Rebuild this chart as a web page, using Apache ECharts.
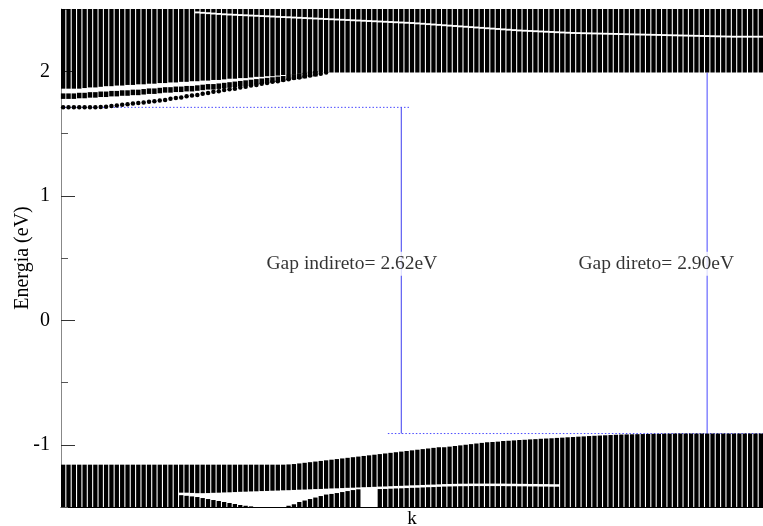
<!DOCTYPE html>
<html>
<head>
<meta charset="utf-8">
<script src="https://cdn.jsdelivr.net/npm/echarts@6/dist/echarts.min.js"></script>
<style>
  html, body { margin: 0; padding: 0; background: #fff; }
  #chart { width: 763px; height: 526px; }
</style>
</head>
<body>
<div id="chart"></div>
<script>
// Band structure: energies (eV) at each k-point along the path (k = 0 .. 130)

// Bottom edge of the dense conduction band manifold
const condBottom = [
  1.86,1.86,1.86,1.86,1.865,1.87,1.87,1.875,1.88,1.88,
  1.885,1.885,1.89,1.89,1.895,1.895,1.90,1.90,1.905,1.905,
  1.91,1.91,1.915,1.915,1.92,1.92,1.925,1.925,1.93,1.93,
  1.935,1.94,1.94,1.945,1.945,1.95,1.955,1.955,1.96,1.96,
  1.965,1.97,1.97,1.975,1.98,1.98,1.985,1.985,1.99,1.99,
  1.99,1.99,1.99,1.99,1.99,1.99,1.99,1.99,1.99,1.99,
  1.99,1.99,1.99,1.99,1.99,1.99,1.99,1.99,1.99,1.99,
  1.99,1.99,1.99,1.99,1.99,1.99,1.99,1.99,1.99,1.99,
  1.99,1.99,1.99,1.99,1.99,1.99,1.99,1.99,1.99,1.99,
  1.99,1.99,1.99,1.99,1.99,1.99,1.99,1.99,1.99,1.99,
  1.99,1.99,1.99,1.99,1.99,1.99,1.99,1.99,1.99,1.99,
  1.99,1.99,1.99,1.99,1.99,1.99,1.99,1.99,1.99,1.99,
  1.99,1.99,1.99,1.99,1.99,1.99,1.99,1.99,1.99,1.99,
  1.99
];

// Gap inside the conduction manifold (k = 25 .. 130): lower group top / upper group bottom
const condSplitStart = 25;
const condLowerTop = [
  2.465,2.462,2.459,2.456,2.453,2.45,2.448,2.446,2.444,2.442,
  2.44,2.438,2.436,2.434,2.432,2.43,2.428,2.426,2.424,2.422,
  2.42,2.418,2.416,2.414,2.412,2.41,2.408,2.406,2.404,2.402,
  2.40,2.398,2.396,2.394,2.392,2.39,2.388,2.386,2.384,2.382,
  2.38,2.377,2.374,2.371,2.368,2.365,2.362,2.359,2.356,2.353,
  2.35,2.347,2.344,2.341,2.338,2.335,2.332,2.329,2.326,2.323,
  2.32,2.318,2.316,2.314,2.312,2.31,2.308,2.306,2.304,2.302,
  2.30,2.299,2.298,2.297,2.296,2.295,2.294,2.293,2.292,2.291,
  2.29,2.289,2.288,2.287,2.286,2.285,2.284,2.283,2.282,2.281,
  2.28,2.279,2.278,2.277,2.276,2.275,2.274,2.273,2.272,2.271,
  2.27,2.27,2.27,2.27,2.27,2.27
];
const condUpperBottom = [
  2.48,2.477,2.474,2.471,2.468,2.465,2.463,2.461,2.459,2.457,
  2.455,2.453,2.451,2.449,2.447,2.445,2.443,2.441,2.439,2.437,
  2.435,2.433,2.431,2.429,2.427,2.425,2.423,2.421,2.419,2.417,
  2.415,2.413,2.411,2.409,2.407,2.405,2.403,2.401,2.399,2.397,
  2.395,2.392,2.389,2.386,2.383,2.38,2.377,2.374,2.371,2.368,
  2.365,2.362,2.359,2.356,2.353,2.35,2.347,2.344,2.341,2.338,
  2.335,2.333,2.331,2.329,2.327,2.325,2.323,2.321,2.319,2.317,
  2.315,2.314,2.313,2.312,2.311,2.31,2.309,2.308,2.307,2.306,
  2.305,2.304,2.303,2.302,2.301,2.30,2.299,2.298,2.297,2.296,
  2.295,2.294,2.293,2.292,2.291,2.29,2.289,2.288,2.287,2.286,
  2.285,2.285,2.285,2.285,2.285,2.285
];

// Lowest conduction band (k = 0 .. 49, then it joins the manifold)
const condBand1 = [
  1.71,1.71,1.71,1.71,1.71,1.71,1.71,1.712,1.715,1.72,
  1.725,1.73,1.735,1.74,1.745,1.75,1.755,1.76,1.765,1.77,
  1.78,1.785,1.79,1.80,1.805,1.81,1.82,1.825,1.835,1.84,
  1.85,1.855,1.86,1.87,1.875,1.885,1.89,1.90,1.905,1.915,
  1.92,1.93,1.935,1.945,1.95,1.96,1.965,1.975,1.98,1.99
];

// Second conduction band (k = 0 .. 47)
const condBand2 = [
  1.80,1.80,1.80,1.805,1.805,1.81,1.81,1.815,1.815,1.82,
  1.82,1.825,1.825,1.83,1.83,1.835,1.84,1.84,1.845,1.85,
  1.85,1.855,1.855,1.86,1.86,1.865,1.87,1.875,1.875,1.88,
  1.885,1.89,1.895,1.90,1.905,1.91,1.915,1.92,1.925,1.93,
  1.935,1.94,1.95,1.955,1.96,1.965,1.975,1.98
];

// Top edge of the valence band manifold
const valTop = [
  -1.16,-1.16,-1.16,-1.16,-1.16,-1.16,-1.16,-1.16,-1.16,-1.16,
  -1.16,-1.16,-1.16,-1.16,-1.16,-1.16,-1.16,-1.16,-1.16,-1.16,
  -1.16,-1.16,-1.16,-1.16,-1.16,-1.16,-1.16,-1.16,-1.16,-1.16,
  -1.16,-1.16,-1.16,-1.16,-1.16,-1.16,-1.16,-1.16,-1.16,-1.16,
  -1.16,-1.16,-1.158,-1.155,-1.15,-1.145,-1.14,-1.135,-1.13,-1.125,
  -1.12,-1.115,-1.11,-1.105,-1.10,-1.095,-1.09,-1.085,-1.08,-1.075,
  -1.07,-1.065,-1.06,-1.055,-1.05,-1.045,-1.04,-1.035,-1.03,-1.025,
  -1.02,-1.02,-1.015,-1.01,-1.005,-1.0,-0.995,-0.99,-0.985,-0.98,
  -0.978,-0.975,-0.97,-0.968,-0.965,-0.962,-0.96,-0.957,-0.955,-0.952,
  -0.95,-0.948,-0.945,-0.943,-0.94,-0.938,-0.935,-0.933,-0.93,-0.928,
  -0.926,-0.924,-0.922,-0.92,-0.918,-0.917,-0.916,-0.915,-0.914,-0.913,
  -0.912,-0.912,-0.911,-0.911,-0.91,-0.91,-0.91,-0.91,-0.91,-0.91,
  -0.91,-0.91,-0.91,-0.91,-0.91,-0.91,-0.91,-0.91,-0.91,-0.91,
  -0.91
];

// Gap inside the valence manifold (k = 22 .. 92): upper group bottom / lower group top
const valSplitStart = 22;
const valUpperBottom = [
  -1.385,-1.385,-1.387,-1.389,-1.389,-1.388,-1.386,-1.385,
  -1.383,-1.382,-1.380,-1.378,-1.377,-1.375,-1.374,-1.372,-1.371,-1.369,
  -1.368,-1.366,-1.365,-1.363,-1.361,-1.36,-1.358,-1.356,-1.355,-1.353,
  -1.351,-1.35,-1.348,-1.346,-1.345,-1.343,-1.341,-1.34,-1.338,-1.336,
  -1.335,-1.333,-1.331,-1.33,-1.328,-1.326,-1.325,-1.323,-1.321,-1.32,
  -1.318,-1.316,-1.315,-1.314,-1.313,-1.313,-1.312,-1.312,-1.312,-1.312,
  -1.312,-1.312,-1.312,-1.313,-1.313,-1.314,-1.314,-1.315,-1.315,-1.316,
  -1.316,-1.317,-1.317
];
const valLowerTop = [
  -1.405,-1.41,-1.415,-1.42,-1.428,-1.436,-1.444,-1.452,
  -1.46,-1.468,-1.476,-1.484,-1.49,-1.495,-1.5,-1.5,-1.5,-1.5,
  -1.5,-1.5,-1.49,-1.478,-1.46,-1.448,-1.436,-1.424,-1.412,-1.40,
  -1.395,-1.388,-1.38,-1.372,-1.364,-1.358,-1.5,-1.5,-1.5,-1.356,
  -1.355,-1.353,-1.351,-1.35,-1.348,-1.346,-1.345,-1.343,-1.341,-1.34,
  -1.338,-1.336,-1.335,-1.334,-1.333,-1.333,-1.332,-1.332,-1.332,-1.332,
  -1.332,-1.332,-1.332,-1.333,-1.333,-1.334,-1.334,-1.335,-1.335,-1.336,
  -1.336,-1.337,-1.337
];

const yMin = -1.5, yMax = 2.5;
const yTickValues = [-1, 0, 1, 2];
const yMinorValues = [-1.5, -0.5, 0.5, 1.5, 2.5];

// Gap annotations
const vbm = -0.91;
const gapIndirect = 2.62;
const gapDirect = 2.90;
const kIndirect = 63;
const kDirect = 120;
const gapLabels = ['Gap indireto= ', 'Gap direto= '];
const kIndirectLabel = 53.8;
const kDirectLabel = 110.5;
const labelEnergy = 0.47;

const cbm = vbm + gapIndirect;
const directTop = vbm + gapDirect;
const nK = valTop.length;
const kMin = -0.4, kMax = nK - 1 + 0.4;

// Column segments [k, low, high]
const condBlocks = [];
condBottom.forEach((e, k) => {
  const i = k - condSplitStart;
  if (i >= 0 && i < condLowerTop.length) {
    condBlocks.push([k, e, condLowerTop[i]]);
    condBlocks.push([k, condUpperBottom[i], yMax]);
  } else {
    condBlocks.push([k, e, yMax]);
  }
});
const valBlocks = [];
valTop.forEach((e, k) => {
  const i = k - valSplitStart;
  if (i >= 0 && i < valUpperBottom.length) {
    valBlocks.push([k, valUpperBottom[i], e]);
    if (valLowerTop[i] > yMin) valBlocks.push([k, yMin, valLowerTop[i]]);
  } else {
    valBlocks.push([k, yMin, e]);
  }
});

function columnItem(params, api) {
  const k = api.value(0);
  const lo = api.value(1), hi = api.value(2);
  const a = api.coord([k - 0.4, hi]);
  const b = api.coord([k + 0.4, lo]);
  return {
    type: 'rect',
    shape: { x: a[0], y: a[1], width: b[0] - a[0], height: b[1] - a[1] },
    style: { fill: '#000' }
  };
}

const serif = '"Liberation Serif", "DejaVu Serif", serif';
const blue = '#4a4aff';

const chart = echarts.init(document.getElementById('chart'), null, { renderer: 'canvas' });
chart.setOption({
  animation: false,
  backgroundColor: '#fff',
  grid: { left: 61, right: 0, top: 9, bottom: 19, containLabel: false, outerBoundsMode: 'none' },
  xAxis: {
    type: 'value', min: kMin, max: kMax,
    name: 'k', nameLocation: 'middle', nameGap: 3,
    nameTextStyle: { fontFamily: serif, fontSize: 19, color: '#000' },
    axisLine: { show: true, onZero: false, lineStyle: { color: '#000', width: 1 } },
    axisTick: { show: false }, axisLabel: { show: false }, splitLine: { show: false }
  },
  yAxis: [{
    type: 'value', min: yMin, max: yMax,
    name: 'Energia (eV)', nameLocation: 'middle', nameGap: 28, nameRotate: 90,
    nameMoveOverlap: false,
    nameTextStyle: { fontFamily: serif, fontSize: 20, color: '#000' },
    axisLine: { show: true, onZero: false, lineStyle: { color: '#888', width: 1 } },
    axisTick: { show: true, inside: true, length: 14, customValues: yTickValues, lineStyle: { color: '#333' } },
    axisLabel: { show: true, customValues: yTickValues, margin: 11, fontFamily: serif, fontSize: 20, color: '#000' },
    splitLine: { show: false }
  }, {
    type: 'value', min: yMin, max: yMax, position: 'left',
    axisLine: { show: false, onZero: false },
    axisTick: { show: true, inside: true, length: 7, customValues: yMinorValues, lineStyle: { color: '#555' } },
    axisLabel: { show: false }, splitLine: { show: false }
  }],
  series: [
    {
      type: 'line', data: [[kMin, cbm], [kIndirect + 1.5, cbm]], symbol: 'none', z: 1,
      lineStyle: { color: blue, width: 1, type: [1.5, 2] }
    },
    {
      type: 'line', data: [[kIndirect - 2.5, vbm], [kMax, vbm]], symbol: 'none', z: 1,
      lineStyle: { color: blue, width: 1, type: [1.5, 2] }
    },
    {
      type: 'line', data: [[kIndirect, vbm], [kIndirect, cbm]], symbol: 'none', z: 2,
      lineStyle: { color: '#3c3cf0', width: 1 }
    },
    {
      type: 'line', data: [[kDirect, vbm], [kDirect, directTop]], symbol: 'none', z: 2,
      lineStyle: { color: '#8585ff', width: 1.5 }
    },
    {
      type: 'custom', renderItem: columnItem, data: condBlocks, z: 3,
      encode: { x: 0, y: [1, 2] }
    },
    {
      type: 'custom', renderItem: columnItem, data: valBlocks, z: 3,
      encode: { x: 0, y: [1, 2] }
    },
    {
      type: 'scatter', data: condBand1.map((e, k) => [k, e]), symbol: 'circle', symbolSize: 4.5, z: 3,
      itemStyle: { color: '#000', opacity: 1 }
    },
    {
      type: 'scatter', data: condBand2.map((e, k) => [k, e]), symbol: 'rect', symbolSize: [4.5, 5.5], z: 3,
      itemStyle: { color: '#000', opacity: 1 }
    },
    {
      type: 'scatter', symbolSize: 0, z: 5,
      data: [
        { value: [kIndirectLabel, labelEnergy], text: gapLabels[0] + gapIndirect.toFixed(2) + 'eV' },
        { value: [kDirectLabel, labelEnergy], text: gapLabels[1] + gapDirect.toFixed(2) + 'eV' }
      ],
      label: {
        show: true, position: 'inside', offset: [0, 2],
        formatter: p => p.data.text,
        fontFamily: serif, fontSize: 19.5, color: '#000',
        backgroundColor: '#fff', padding: [2, 1]
      }
    }
  ]
});
</script>
</body>
</html>
